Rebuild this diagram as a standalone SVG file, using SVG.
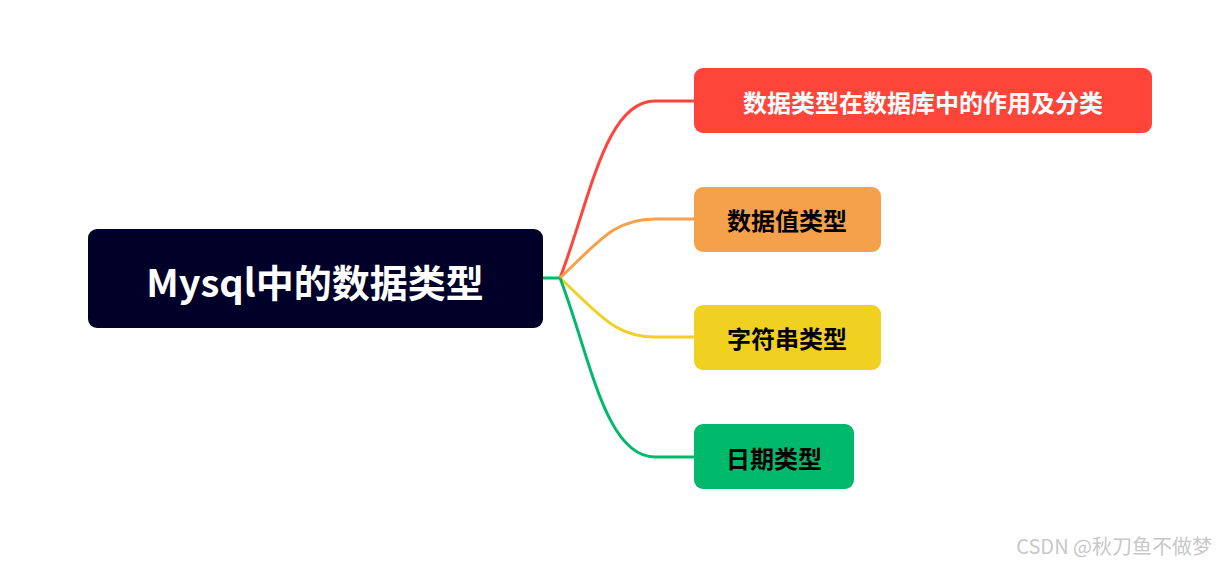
<svg xmlns="http://www.w3.org/2000/svg" width="1218" height="564" viewBox="0 0 1218 564">
<style>
.c{fill:none;stroke-width:3}
.t{font-family:"Noto Sans CJK SC","Noto Sans",sans-serif;font-weight:bold;font-size:24px;text-anchor:middle;dominant-baseline:central}
</style>
<rect width="1218" height="564" fill="#fff"/>
<g id="connectors">
<path class="c" stroke="#00b96b" d="M543 278 H560"/>
<path class="c" stroke="#ff443a" d="M560 278 C590 200 605 101 655 101 H694"/>
<path class="c" stroke="#f5a04a" d="M560 278 C600 240 615 219 655 219 H694"/>
<path class="c" stroke="#f0d020" d="M560 278 C600 315 615 337 655 337 H694"/>
<path class="c" stroke="#00b96b" d="M560 278 C590 356 605 457 655 457 H694"/>
</g>
<g id="root"><rect x="88" y="229" width="455" height="99" rx="9" fill="#000028"/>
<text class="t" x="315" y="280" font-size="38" fill="#fff" style="font-size:38px">Mysql中的数据类型</text></g>
<g id="n1"><rect x="694" y="68" width="458" height="65" rx="9" fill="#ff443a"/>
<text class="t" x="923" y="101" fill="#fff">数据类型在数据库中的作用及分类</text></g>
<g id="n2"><rect x="694" y="187" width="187" height="65" rx="9" fill="#f5a04a"/>
<text class="t" x="787" y="219" fill="#000">数据值类型</text></g>
<g id="n3"><rect x="694" y="305" width="187" height="65" rx="9" fill="#f0d020"/>
<text class="t" x="787" y="337" fill="#000">字符串类型</text></g>
<g id="n4"><rect x="694" y="424" width="160" height="65" rx="9" fill="#00b96b"/>
<text class="t" x="774" y="457" fill="#000">日期类型</text></g>
<text x="1212" y="545" font-family="'Noto Sans CJK SC',sans-serif" font-size="20" fill="#c8c8c8" text-anchor="end" dominant-baseline="central">CSDN @秋刀鱼不做梦</text>
</svg>
